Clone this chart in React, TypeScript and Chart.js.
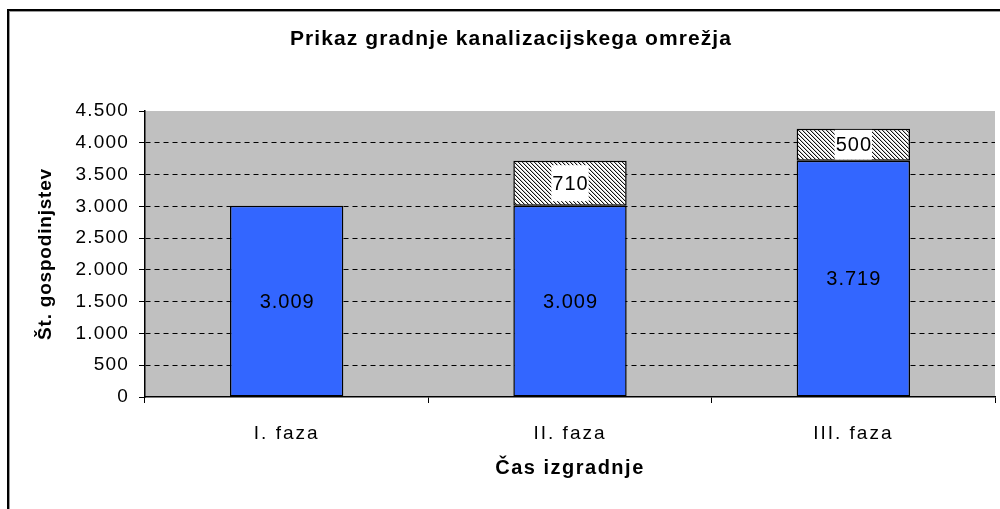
import { useEffect, useRef } from 'react';
import { Chart, registerables, Scale } from 'chart.js';

Chart.register(...registerables);

const categories = ['I. faza', 'II. faza', 'III. faza'];
const builtValues = [3009, 3009, 3719];
const addedValues: (number | null)[] = [null, 710, 500];
const yMin = 0;
const yMax = 4500;
const yStep = 500;
const chartTitle = 'Prikaz gradnje kanalizacijskega omrežja';
const yTitle = 'Št. gospodinjstev';
const xTitle = 'Čas izgradnje';

const FONT = '"Liberation Sans", Arial, Helvetica, sans-serif';

const fmt = (v: number) => String(v).replace(/\B(?=(\d{3})+(?!\d))/g, '.');

function makeHatch(): CanvasPattern | string {
  const c = document.createElement('canvas');
  c.width = 4;
  c.height = 4;
  const g = c.getContext('2d');
  if (!g) return '#888';
  g.fillStyle = '#ffffff';
  g.fillRect(0, 0, 4, 4);
  for (let i = 0; i < 4; i++) {
    g.fillStyle = '#111111';
    g.fillRect(i, i, 1, 1);
    g.fillStyle = '#c4c4c4';
    g.fillRect((i + 1) % 4, i, 1, 1);
  }
  const p = g.createPattern(c, 'repeat');
  return p || '#888';
}

function wrapSpacing(s: any, labelSpacing: string, titleSpacing: string) {
  if (s.__wrapped) return;
  s.__wrapped = true;
  const proto: any = Scale.prototype;
  s.drawLabels = function (area: any) {
    const ctx = this.ctx;
    ctx.save();
    (ctx as any).letterSpacing = labelSpacing;
    proto.drawLabels.call(this, area);
    ctx.restore();
  };
  s.drawTitle = function () {
    const ctx = this.ctx;
    ctx.save();
    (ctx as any).letterSpacing = titleSpacing;
    proto.drawTitle.call(this);
    ctx.restore();
  };
}

const framePlugin = {
  id: 'frame',
  beforeDraw(chart: any) {
    const { ctx, chartArea, width, height } = chart;
    ctx.save();
    ctx.fillStyle = '#ffffff';
    ctx.fillRect(0, 0, width, height);
    ctx.strokeStyle = '#000000';
    ctx.lineWidth = 2;
    ctx.strokeRect(8, 10, width + 100, height + 100);
    ctx.strokeStyle = '#9a9a9a';
    ctx.lineWidth = 1;
    ctx.strokeRect(9.5, 11.5, width + 100, height + 100);
    ctx.fillStyle = '#C0C0C0';
    ctx.fillRect(chartArea.left, chartArea.top, chartArea.right - chartArea.left, chartArea.bottom - chartArea.top);
    // main title
    ctx.letterSpacing = '1.1px';
    ctx.font = `bold 21px ${FONT}`;
    ctx.fillStyle = '#000000';
    ctx.textAlign = 'center';
    ctx.textBaseline = 'middle';
    ctx.fillText(chartTitle, 511, 39);
    ctx.restore();
  },
};

const labelPlugin = {
  id: 'valueLabels',
  afterDatasetsDraw(chart: any) {
    const ctx = chart.ctx;
    ctx.save();
    ctx.letterSpacing = '1px';
    ctx.font = `20px ${FONT}`;
    ctx.textAlign = 'center';
    ctx.textBaseline = 'middle';
    chart.data.datasets.forEach((ds: any, di: number) => {
      const meta = chart.getDatasetMeta(di);
      meta.data.forEach((el: any, i: number) => {
        const v = ds.data[i];
        if (v == null) return;
        const { x, y, base } = el.getProps(['x', 'y', 'base'], true);
        const cy = (y + base) / 2;
        const text = fmt(v);
        if (di === 1) {
          const w = ctx.measureText(text).width + 1;
          const h = Math.min(36, Math.abs(base - y) - 2);
          ctx.fillStyle = '#ffffff';
          ctx.fillRect(x - w / 2, cy - h / 2, w, h);
        }
        ctx.fillStyle = '#000000';
        ctx.fillText(text, x + 0.5, cy + 1);
      });
    });
    ctx.restore();
  },
};

export default function App() {
  const ref = useRef<HTMLCanvasElement | null>(null);

  useEffect(() => {
    if (!ref.current) return;
    const hatch = makeHatch();
    const chart = new Chart(ref.current, {
      type: 'bar',
      data: {
        labels: categories,
        datasets: [
          {
            label: 'Zgrajeno',
            data: builtValues,
            backgroundColor: '#3366FF',
            borderColor: '#000000',
            borderWidth: 1.5,
            borderSkipped: false,
            barPercentage: 0.4,
            categoryPercentage: 1,
          },
          {
            label: 'Dodatno',
            data: addedValues,
            backgroundColor: hatch as any,
            borderColor: '#000000',
            borderWidth: 1.5,
            borderSkipped: false,
            barPercentage: 0.4,
            categoryPercentage: 1,
          },
        ],
      },
      options: {
        responsive: false,
        animation: false,
        devicePixelRatio: 1,
        layout: { padding: { left: 0, right: 5, top: 111, bottom: 0 } },
        plugins: {
          legend: { display: false },
          tooltip: { enabled: false },
          title: { display: false },
        },
        scales: {
          x: {
            stacked: true,
            afterFit: (s: any) => {
              s.height = 112;
              wrapSpacing(s, '2px', '1.5px');
            },
            grid: {
              display: true,
              drawOnChartArea: false,
              drawTicks: true,
              tickLength: 6,
              tickColor: '#000000',
              offset: true,
            },
            border: { display: true, color: '#000000', width: 1.5 },
            ticks: {
              color: '#000000',
              font: { family: FONT, size: 19 },
              padding: 19,
            },
            title: {
              display: true,
              text: xTitle,
              color: '#000000',
              font: { family: FONT, size: 20, weight: 'bold' },
              padding: { top: 0, bottom: 29 },
            },
          },
          y: {
            stacked: true,
            min: yMin,
            max: yMax,
            afterFit: (s: any) => {
              s.width = 145;
              wrapSpacing(s, '1.2px', '0.8px');
            },
            grid: {
              color: (c: any) =>
                c.tick && (c.tick.value === yMin || c.tick.value === yMax) ? 'rgba(0,0,0,0)' : '#000000',
              lineWidth: 1,
              drawTicks: true,
              tickLength: 6,
              tickColor: '#000000',
              tickBorderDash: [],
            },
            border: { display: true, color: '#000000', width: 1.5, dash: [5, 4] },
            ticks: {
              stepSize: yStep,
              color: '#000000',
              font: { family: FONT, size: 19 },
              padding: 10,
              callback: (v: any) => fmt(Number(v)),
            },
            title: {
              display: true,
              text: yTitle,
              color: '#000000',
              font: { family: FONT, size: 19, weight: 'bold' },
              padding: { top: 34, bottom: 0 },
            },
          },
        },
      },
      plugins: [framePlugin, labelPlugin],
    });
    return () => chart.destroy();
  }, []);

  return (
    <div style={{ position: 'absolute', left: 0, top: 0, width: 1000, height: 509 }}>
      <canvas ref={ref} width={1000} height={509} />
    </div>
  );
}
